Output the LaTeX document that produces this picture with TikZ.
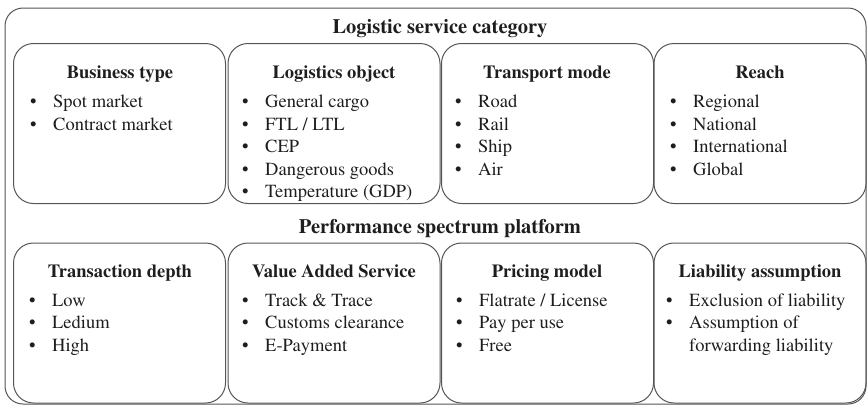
\documentclass[tikz,border=0pt]{standalone}
\usepackage[T1]{fontenc}
\usepackage{times}
\usetikzlibrary{positioning}
\definecolor{framegray}{RGB}{85,85,85}
\definecolor{txtgray}{RGB}{30,30,30}
\tikzset{
  catbox/.style={draw=framegray,line width=1pt,rounded corners=20pt,minimum width=212pt,minimum height=160pt,inner sep=0pt},
  titletxt/.style={font=\fontsize{20.5}{24}\selectfont\bfseries,text=txtgray,anchor=base,inner sep=0pt},
  headtxt/.style={font=\fontsize{18.5}{22}\selectfont\bfseries,text=txtgray,anchor=base,inner sep=0pt},
  itemtxt/.style={font=\fontsize{18.5}{22}\selectfont,text=txtgray,anchor=base west,inner sep=0pt}
}
\newcommand{\bul}{\makebox[0pt][r]{\makebox[23pt][l]{\textbullet}}}

\begin{document}
\begin{tikzpicture}[x=1pt,y=-1pt]
\useasboundingbox (0,0) rectangle (868,405);
\node[catbox,rounded corners=18pt,minimum width=861pt,minimum height=396pt] (frame) at (435.5,206) {};
\node[titletxt] (toptitle) at (440,33) {Logistic service category};
\node[titletxt] (bottitle) at (440,233) {Performance spectrum platform};
% top row
\node[catbox] (business) at (119.5,123.5) {};
\node[catbox] (object) at (334,123.5) {};
\node[catbox] (transport) at (547.5,123.5) {};
\node[catbox] (reach) at (760,123.5) {};
\node[headtxt] (businesshead) at (120,78) {Business type};
\node[headtxt] (objecthead) at (334,78) {Logistics object};
\node[headtxt] (transporthead) at (547,78) {Transport mode};
\node[headtxt] (reachhead) at (760,78) {Reach};
\node[itemtxt] (bus1) at (53,107) {\bul Spot market};
\node[itemtxt] (bus2) at (53,130) {\bul Contract market};
\node[itemtxt] (obj1) at (265,107) {\bul General cargo};
\node[itemtxt] (obj2) at (265,130) {\bul FTL / LTL};
\node[itemtxt] (obj3) at (265,152) {\bul CEP};
\node[itemtxt] (obj4) at (265,175) {\bul Dangerous goods};
\node[itemtxt] (obj5) at (265,197) {\bul Temperature (GDP)};
\node[itemtxt] (tra1) at (478,107) {\bul Road};
\node[itemtxt] (tra2) at (478,130) {\bul Rail};
\node[itemtxt] (tra3) at (478,152) {\bul Ship};
\node[itemtxt] (tra4) at (478,175) {\bul Air};
\node[itemtxt] (rea1) at (693,107) {\bul Regional};
\node[itemtxt] (rea2) at (693,130) {\bul National};
\node[itemtxt] (rea3) at (693,152) {\bul International};
\node[itemtxt] (rea4) at (693,175) {\bul Global};
% bottom row
\node[catbox] (depth) at (119.5,323) {};
\node[catbox] (vas) at (334,323) {};
\node[catbox] (pricing) at (547.5,323) {};
\node[catbox] (liability) at (760,323) {};
\node[headtxt] (depthhead) at (120,277) {Transaction depth};
\node[headtxt] (vashead) at (334,277) {Value Added Service};
\node[headtxt] (pricinghead) at (547,277) {Pricing model};
\node[headtxt] (liabilityhead) at (760,277) {Liability assumption};
\node[itemtxt] (dep1) at (52,306) {\bul Low};
\node[itemtxt] (dep2) at (52,328) {\bul Ledium};
\node[itemtxt] (dep3) at (52,351) {\bul High};
\node[itemtxt] (vas1) at (265,306) {\bul Track \& Trace};
\node[itemtxt] (vas2) at (265,328) {\bul Customs clearance};
\node[itemtxt] (vas3) at (265,351) {\bul E-Payment};
\node[itemtxt] (pri1) at (479,306) {\bul Flatrate / License};
\node[itemtxt] (pri2) at (479,328) {\bul Pay per use};
\node[itemtxt] (pri3) at (479,351) {\bul Free};
\node[itemtxt] (lia1) at (689,306) {\bul Exclusion of liability};
\node[itemtxt] (lia2) at (689,328) {\bul Assumption of};
\node[itemtxt] (lia3) at (689,351) {forwarding liability};
\end{tikzpicture}
\end{document}
